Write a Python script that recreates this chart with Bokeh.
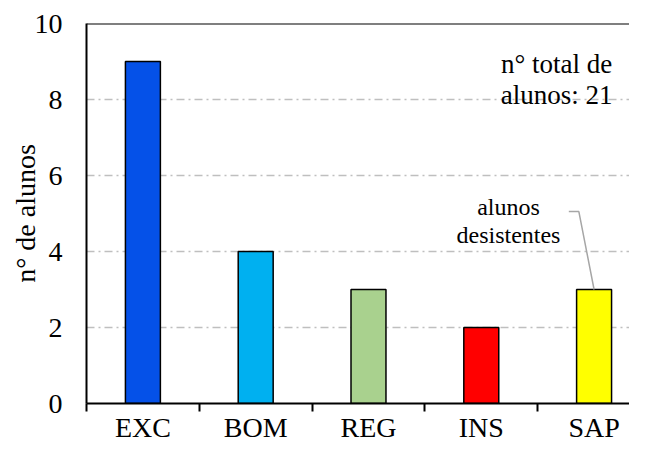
from bokeh.plotting import figure
from bokeh.models import FixedTicker, Span, Range1d
from bokeh.embed import file_html
from bokeh.resources import INLINE
from bokeh.core.properties import value

categories = ["EXC", "BOM", "REG", "INS", "SAP"]
alunos = [9, 4, 3, 2, 3]
colors = ["#0551E8", "#00B0F0", "#A9D18E", "#FF0000", "#FFFF00"]
y_ticks = [0, 2, 4, 6, 8, 10]

FONT = "Times New Roman"
xs = list(range(len(categories)))

p = figure(width=629, height=445, output_backend="svg", toolbar_location=None,
           x_range=Range1d(-0.5, 4.314), y_range=Range1d(0, 10),
           min_border_left=86, min_border_right=0, min_border_top=23, min_border_bottom=42)
p.outline_line_color = None
p.background_fill_color = "white"

p.vbar(x=xs, top=alunos, width=0.31, fill_color=colors, line_color="black", line_width=1.5)
p.add_layout(Span(location=10, dimension="width", line_color="black", line_width=2))

p.xgrid.visible = False
p.ygrid.ticker = FixedTicker(ticks=y_ticks[1:-1])
p.ygrid.grid_line_color = "#BFBFBF"
p.ygrid.grid_line_width = 1.5
p.ygrid.grid_line_dash = "8 4 2 4"

p.yaxis.ticker = FixedTicker(ticks=y_ticks)
p.yaxis.axis_line_color = "black"
p.yaxis.axis_line_width = 2
p.yaxis.major_tick_out = 0
p.yaxis.major_tick_in = 0
p.yaxis.minor_tick_line_color = None
p.yaxis.major_label_standoff = 24
p.yaxis.major_label_text_font = FONT
p.yaxis.major_label_text_font_size = "28px"
p.yaxis.major_label_text_color = "black"
p.yaxis.axis_label = "n° de alunos"
p.yaxis.axis_label_text_font = FONT
p.yaxis.axis_label_text_font_size = "28px"
p.yaxis.axis_label_text_font_style = "normal"
p.yaxis.axis_label_text_color = "black"
p.yaxis.axis_label_standoff = -9

p.xaxis.ticker = FixedTicker(ticks=xs, minor_ticks=[x - 0.5 for x in xs])
p.xaxis.major_label_overrides = {x: c for x, c in zip(xs, categories)}
p.xaxis.axis_line_color = "black"
p.xaxis.axis_line_width = 2
p.xaxis.major_tick_out = 0
p.xaxis.major_tick_in = 0
p.xaxis.minor_tick_out = 8
p.xaxis.minor_tick_in = 0
p.xaxis.minor_tick_line_color = "black"
p.xaxis.minor_tick_line_width = 2
p.xaxis.major_label_standoff = 0
p.xaxis.major_label_text_font = FONT
p.xaxis.major_label_text_font_size = "28px"
p.xaxis.major_label_text_color = "black"

total_lines = ["n° total de", f"alunos: {sum(alunos)}"]
p.text(x=[3.667, 3.667], y=[8.93, 8.12], text=total_lines, text_font=value(FONT),
       text_font_size="27px", text_align="center", text_baseline="alphabetic", text_color="black")

desist_lines = ["alunos", "desistentes"]
p.text(x=[3.241, 3.241], y=[5.165, 4.435], text=desist_lines, text_font=value(FONT),
       text_font_size="24px", text_align="center", text_baseline="alphabetic", text_color="black")

sap = categories.index("SAP")
p.line(x=[3.776, 3.865, xs[sap]], y=[5.05, 5.05, alunos[sap]], line_color="#A6A6A6", line_width=1.5)

open("out.html", "w").write(file_html(p, INLINE))
